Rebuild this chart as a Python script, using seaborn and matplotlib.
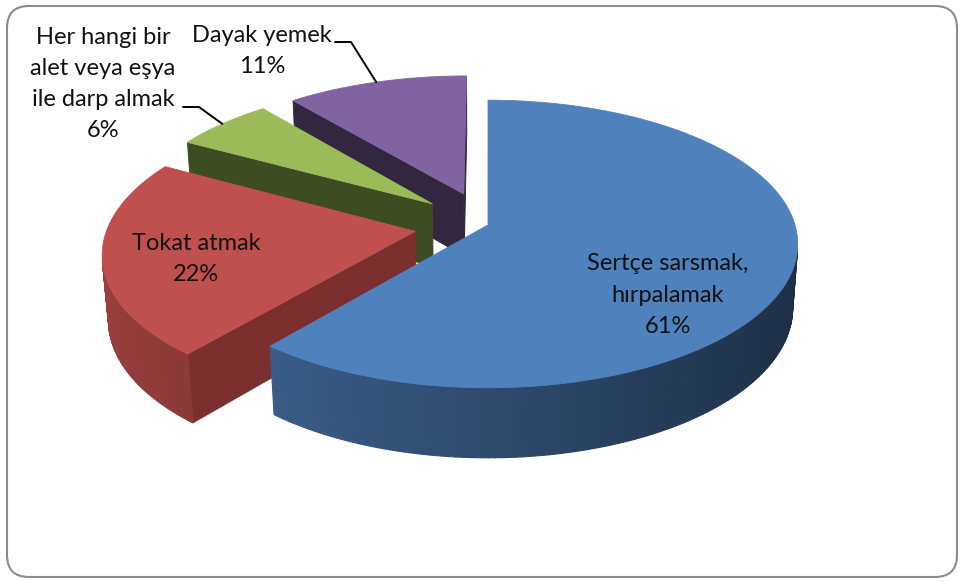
import numpy as np
import matplotlib.pyplot as plt
import seaborn as sns
from matplotlib.patches import Polygon, FancyBboxPatch
from matplotlib.collections import PolyCollection

# chart data
labels = ["Sertçe sarsmak,\nhırpalamak", "Tokat atmak",
          "Her hangi bir\nalet veya eşya\nile darp almak", "Dayak yemek"]
values = [61, 22, 6, 11]

# styling (Excel 2007 default palette)
top_colors = sns.color_palette(["#4f81bd", "#c0504d", "#9bbb59", "#8064a2"])
cut_colors = sns.color_palette(["#2b4a70", "#7a2f2e", "#3e4c22", "#33263f"])
explode = [0.0, 0.24, 0.24, 0.24]
label_pos = [(668, 295), (196, 259), (103, 84), (262, 51)]
leader_start = [None, None, (183, 107), (335, 42)]

# simple perspective camera, output in pixel space
CX, CY = 488, 225
FOCAL = 2066
DIST = 6.73
ELEV = np.radians(27.4)
THICK = 0.237
CAM = np.array([0.0, -DIST * np.cos(ELEV), DIST * np.sin(ELEV)])


def project(x, y, z):
    x = np.asarray(x, float)
    y = np.asarray(y, float)
    z = np.asarray(z, float)
    w = DIST + y * np.cos(ELEV) - z * np.sin(ELEV)
    up = y * np.sin(ELEV) + z * np.cos(ELEV)
    return CX + FOCAL * x / w, CY - FOCAL * up / w


def facing(normal, point):
    return np.dot(normal, CAM - np.asarray(point)) > 0


def shade(color, f):
    return tuple(np.clip(np.array(color) * f, 0, 1))


sns.set_style("white")
plt.rcParams["font.family"] = ["Lato", "DejaVu Sans"]

fig = plt.figure(figsize=(9.62, 5.81), dpi=100)
ax = fig.add_axes([0, 0, 1, 1])
ax.set_xlim(0, 962)
ax.set_ylim(581, 0)
ax.axis("off")

fracs = np.array(values) / sum(values)
ends = 90 - 360 * np.cumsum(fracs)
starts = ends + 360 * fracs
mids = (starts + ends) / 2

# back slices first
order = np.argsort(-np.sin(np.radians(mids)))
rim_pts = {}
for i in order:
    e = explode[i]
    m = np.radians(mids[i])
    ox, oy = e * np.cos(m), e * np.sin(m)
    th = np.radians(np.linspace(ends[i], starts[i], 200))
    rx, ry = ox + np.cos(th), oy + np.sin(th)

    # cut faces along the radii
    for ang, rot in [(starts[i], 90), (ends[i], -90)]:
        a = np.radians(ang)
        n = np.radians(ang + rot)
        normal = np.array([np.cos(n), np.sin(n), 0])
        px, py = ox + 0.5 * np.cos(a), oy + 0.5 * np.sin(a)
        if facing(normal, [px, py, -THICK / 2]):
            xs = [ox, ox + np.cos(a), ox + np.cos(a), ox]
            ys = [oy, oy + np.sin(a), oy + np.sin(a), oy]
            zs = [0, 0, -THICK, -THICK]
            u, v = project(xs, ys, zs)
            ax.add_patch(Polygon(np.c_[u, v], closed=True, fc=cut_colors[i],
                                 ec=cut_colors[i], lw=0.6))

    # outer curved wall with light falloff
    polys, cols = [], []
    for k in range(len(th) - 1):
        tm = (th[k] + th[k + 1]) / 2
        normal = np.array([np.cos(tm), np.sin(tm), 0])
        if not facing(normal, [ox + np.cos(tm), oy + np.sin(tm), -THICK / 2]):
            continue
        xs = [rx[k], rx[k + 1], rx[k + 1], rx[k]]
        ys = [ry[k], ry[k + 1], ry[k + 1], ry[k]]
        zs = [0, 0, -THICK, -THICK]
        u, v = project(xs, ys, zs)
        polys.append(np.c_[u, v])
        cols.append(shade(top_colors[i], 0.58 - 0.22 * np.cos(tm)))
    if polys:
        ax.add_collection(PolyCollection(polys, facecolors=cols, edgecolors=cols,
                                         linewidths=0.8))

    # top face
    u, v = project(np.r_[ox, rx], np.r_[oy, ry], np.zeros(len(rx) + 1))
    ax.add_patch(Polygon(np.c_[u, v], closed=True, fc=top_colors[i],
                         ec=top_colors[i], lw=0.6))

    rim_pts[i] = project(ox + np.cos(m), oy + np.sin(m), 0)

# data labels
for i, lab in enumerate(labels):
    x, y = label_pos[i]
    ax.text(x, y, f"{lab}\n{values[i]}%", ha="center", va="center",
            fontsize=17, linespacing=1.6, color="#111111")
    if leader_start[i] is not None:
        sx, sy = leader_start[i]
        ex, ey = rim_pts[i]
        ax.plot([sx, sx + 16, float(ex)], [sy, sy, float(ey)], color="black", lw=1.4)

# chart area border
ax.add_patch(FancyBboxPatch((7, 6), 950, 571,
                            boxstyle="round,pad=0,rounding_size=22",
                            fc="none", ec="#8c8c8c", lw=1.5))

fig.savefig("out.png", dpi=100)
